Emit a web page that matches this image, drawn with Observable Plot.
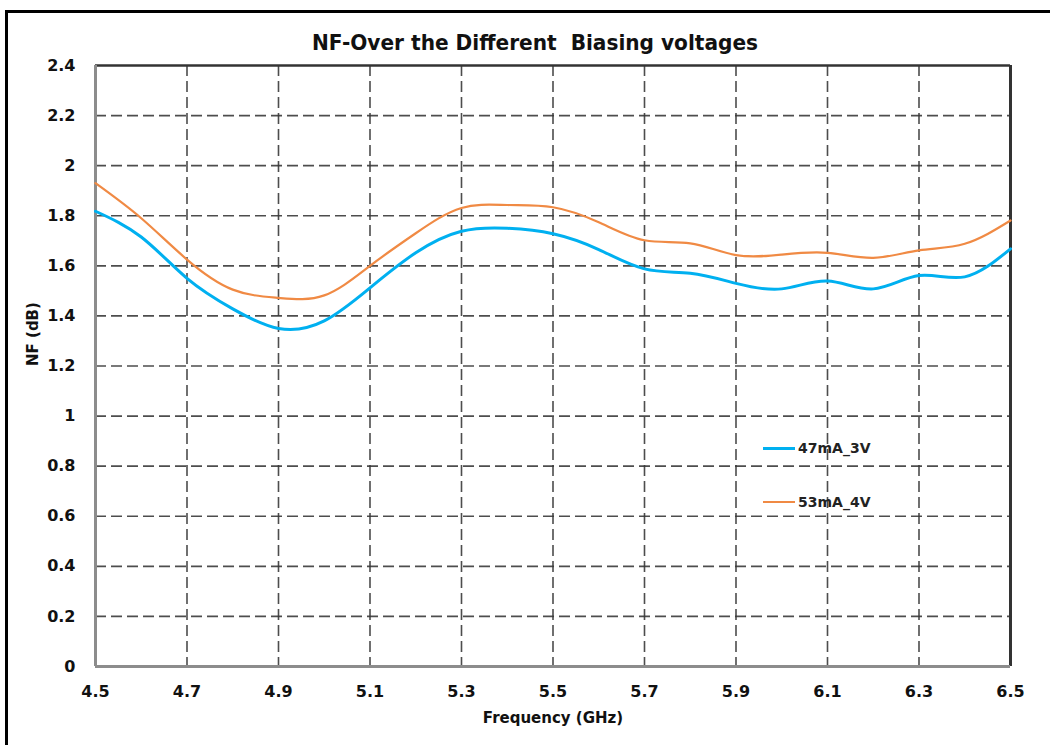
<!DOCTYPE html>
<html><head><meta charset="utf-8">
<script src="https://cdn.jsdelivr.net/npm/d3@7"></script>
<script src="https://cdn.jsdelivr.net/npm/@observablehq/plot@0.6"></script>
<style>
body{margin:0;background:#fff;}
#wrap{position:relative;width:1050px;height:745px;overflow:hidden;background:#fff;}
#border{position:absolute;left:5px;top:10px;width:1100px;height:800px;border-left:3px solid #000;border-top:3px solid #000;pointer-events:none;z-index:2;}
#legend{position:absolute;left:763px;top:440px;font:bold 14px "DejaVu Sans",sans-serif;color:#222;z-index:3;}
.item{position:absolute;left:0;display:flex;align-items:center;white-space:nowrap;}
.swatch{width:32px;margin-right:3px;}
svg text{white-space:pre;}
</style></head>
<body><div id="wrap"><div id="border"></div><div id="legend"></div></div>
<script>
const title = "NF-Over the Different  Biasing voltages";
const xLabel = "Frequency (GHz)";
const yLabel = "NF (dB)";
const seriesNames = ["47mA_3V", "53mA_4V"];
const seriesColors = ["#00B0F0", "#F08A44"];
const freq = [4.5, 4.6, 4.7, 4.8, 4.9, 5.0, 5.1, 5.2, 5.3, 5.4, 5.5, 5.6, 5.7, 5.8, 5.9, 6.0, 6.1, 6.2, 6.3, 6.4, 6.5];
const nf47 = [1.818, 1.715, 1.550, 1.428, 1.350, 1.380, 1.512, 1.652, 1.738, 1.750, 1.728, 1.665, 1.588, 1.570, 1.530, 1.508, 1.539, 1.508, 1.561, 1.556, 1.668];
const nf53 = [1.930, 1.790, 1.625, 1.505, 1.472, 1.482, 1.600, 1.730, 1.831, 1.843, 1.834, 1.774, 1.702, 1.690, 1.643, 1.645, 1.652, 1.632, 1.662, 1.688, 1.781];
const xTicks = [4.5, 4.7, 4.9, 5.1, 5.3, 5.5, 5.7, 5.9, 6.1, 6.3, 6.5];
const yTicks = [0, 0.2, 0.4, 0.6, 0.8, 1, 1.2, 1.4, 1.6, 1.8, 2, 2.2, 2.4];

const rows = [];
freq.forEach((f, i) => rows.push({f, nf: nf47[i], s: seriesNames[0]}));
freq.forEach((f, i) => rows.push({f, nf: nf53[i], s: seriesNames[1]}));

const fmt = d => String(+d.toFixed(1));
const labelFont = '"DejaVu Sans", sans-serif';

const chart = Plot.plot({
  width: 1050, height: 745,
  marginLeft: 95, marginRight: 40, marginTop: 65, marginBottom: 79,
  style: {background: "transparent", fontFamily: labelFont, color: "#111"},
  x: {domain: [4.5, 6.5]},
  y: {domain: [0, 2.4]},
  color: {domain: seriesNames, range: seriesColors},
  marks: [
    Plot.gridY(yTicks.slice(1, -1), {stroke: "#3a3a3a", strokeOpacity: 0.9, strokeWidth: 1.6, strokeDasharray: "11,5"}),
    Plot.gridX(xTicks.slice(1, -1), {stroke: "#3a3a3a", strokeOpacity: 0.9, strokeWidth: 1.6, strokeDasharray: "11,5"}),
    Plot.ruleY([2.4], {stroke: "#333", strokeWidth: 2.5}),
    Plot.ruleX([6.5], {stroke: "#333", strokeWidth: 3}),
    Plot.ruleX([4.5], {stroke: "#8c8c8c", strokeWidth: 3}),
    Plot.ruleY([0], {stroke: "#8c8c8c", strokeWidth: 3}),
    Plot.axisX(xTicks, {tickSize: 0, tickPadding: 19, tickFormat: fmt, fontSize: 16, fontWeight: "bold", label: null}),
    Plot.axisY(yTicks, {tickSize: 0, tickPadding: 20, tickFormat: fmt, fontSize: 16, fontWeight: "bold", label: null}),
    Plot.line(rows.filter(d => d.s === seriesNames[1]), {x: "f", y: "nf", stroke: "s", strokeWidth: 2.2, curve: "natural"}),
    Plot.line(rows.filter(d => d.s === seriesNames[0]), {x: "f", y: "nf", stroke: "s", strokeWidth: 3, curve: "natural"}),
    Plot.text([title], {frameAnchor: "top", dy: -31, dx: -18, fontSize: 22, fontWeight: "bold", fontFamily: '"Liberation Sans Narrow", "DejaVu Sans Condensed", sans-serif', className: "ttl"}),
    Plot.text([xLabel], {frameAnchor: "bottom", dy: 56, fontSize: 15, fontWeight: "bold"}),
    Plot.text([yLabel], {frameAnchor: "left", dx: -62, rotate: -90, fontSize: 15, fontWeight: "bold"})
  ]
});
document.getElementById("wrap").appendChild(chart);
d3.select(chart).selectAll(".ttl text").attr("textLength", 446).attr("lengthAdjust", "spacingAndGlyphs");

const leg = document.getElementById("legend");
seriesNames.forEach((name, i) => {
  const it = document.createElement("div");
  it.className = "item";
  it.style.top = (i * 54) + "px";
  it.innerHTML = `<div class="swatch" style="border-top:${i === 0 ? 3 : 2}px solid ${seriesColors[i]}"></div><span>${name}</span>`;
  leg.appendChild(it);
});
</script></body></html>
